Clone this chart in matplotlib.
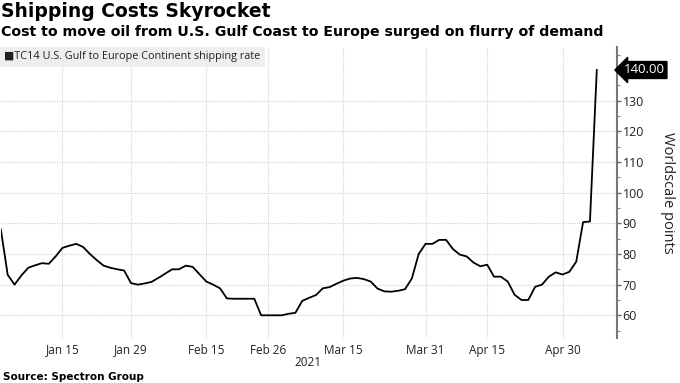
import matplotlib
matplotlib.use("Agg")
import matplotlib.pyplot as plt
from matplotlib.ticker import MultipleLocator

# TC14 rate, one value per trading day (Jan 4 .. early May 2021)
rate = [88.0, 73.2, 70.0, 73.0, 75.5, 76.3, 77.0, 76.8, 79.2, 82.0,
        82.7, 83.3, 82.3, 80.0, 78.0, 76.2, 75.5, 75.0, 74.6, 70.5,
        70.0, 70.4, 70.9, 72.2, 73.6, 75.0, 75.0, 76.2, 75.8, 73.4,
        71.0, 70.0, 68.8, 65.5, 65.4, 65.4, 65.4, 65.4, 60.0, 60.0,
        60.0, 60.0, 60.5, 60.8, 64.7, 65.7, 66.6, 68.8, 69.2, 70.3,
        71.3, 72.0, 72.2, 71.8, 71.0, 68.7, 67.8, 67.7, 68.0, 68.5,
        72.0, 80.0, 83.3, 83.3, 84.6, 84.6, 81.6, 79.8, 79.2, 77.2,
        76.0, 76.5, 72.6, 72.6, 71.0, 66.7, 65.0, 65.0, 69.3, 70.0,
        72.6, 74.0, 73.3, 74.2, 77.5, 90.4, 90.6, 140.0]
tick_pos = [9, 19, 30, 39, 50, 62, 71, 82]
tick_labels = ["Jan 15", "Jan 29", "Feb 15", "Feb 26", "Mar 15", "Mar 31", "Apr 15", "Apr 30"]
y_ticks = [60, 70, 80, 90, 100, 110, 120, 130]
last_label = "140.00"

W, H = 680, 383
fig = plt.figure(figsize=(W / 100, H / 100), dpi=100)
ax = fig.add_axes([0.5 / W, 1 - 338 / H, 616.5 / W, (338 - 47) / H])

x = list(range(len(rate)))
ax.plot(x, rate, color="black", lw=1.3, solid_joinstyle="round")

px_per_day = 6.85
ax.set_xlim(-0.05, 616.5 / px_per_day - 0.05)
ax.set_ylim(52.6, 147.5)

ax.set_xticks(tick_pos)
ax.set_xticklabels(tick_labels, fontsize=8.5, family="Open Sans", color="#222222")
ax.tick_params(axis="x", length=0, pad=4)

ax.yaxis.tick_right()
ax.set_yticks(y_ticks)
ax.set_yticklabels([str(v) for v in y_ticks], fontsize=9, family="Open Sans", color="#222222")
ax.yaxis.set_minor_locator(MultipleLocator(5))
ax.tick_params(axis="y", which="major", direction="out", length=3, width=1, color="#666666", pad=1)
ax.tick_params(axis="y", which="minor", direction="out", length=2, width=0.8, color="#888888")

for s in ["top", "left", "bottom"]:
    ax.spines[s].set_visible(False)
ax.spines["right"].set_color("#777777")
ax.spines["right"].set_linewidth(1.5)

ax.grid(True, which="major", color="#d4d4d4", lw=0.8, ls=(0, (1, 1)))

# last-value tag
ax.annotate(last_label, xy=(1.0, rate[-1]), xycoords=("axes fraction", "data"),
            xytext=(5, 0), textcoords="offset points", va="center", ha="left",
            fontsize=9.5, family="Open Sans", color="white",
            bbox=dict(boxstyle="larrow,pad=0.15", fc="black", ec="black"),
            annotation_clip=False)

fig.text(668 / W, 1 - 193 / H, "Worldscale points", rotation=270, va="center", ha="center",
         fontsize=10.5, family="Open Sans", color="#222222")

fig.text(4 / W, 1 - 57 / H, "\u25A0TC14 U.S. Gulf to Europe Continent shipping rate",
         fontsize=7.8, family=["Open Sans", "DejaVu Sans"], color="#222222", va="center", ha="left",
         bbox=dict(boxstyle="square,pad=0.45", fc="#eeeeee", ec="none"))

fig.text(1 / W, 1 - 2 / H, "Shipping Costs Skyrocket", fontsize=13.5, fontweight="bold",
         family="DejaVu Sans", va="top", ha="left")
fig.text(1 / W, 1 - 25 / H, "Cost to move oil from U.S. Gulf Coast to Europe surged on flurry of demand",
         fontsize=10.2, fontweight="bold", family="DejaVu Sans", va="top", ha="left")
fig.text(308 / W, 1 - 363 / H, "2021", fontsize=8.5, family="Open Sans", color="#222222",
         va="center", ha="center")
fig.text(3 / W, 1 - 377 / H, "Source: Spectron Group", fontsize=7.5, fontweight="bold",
         family="DejaVu Sans", va="center", ha="left")

fig.savefig("out.png", dpi=100)
